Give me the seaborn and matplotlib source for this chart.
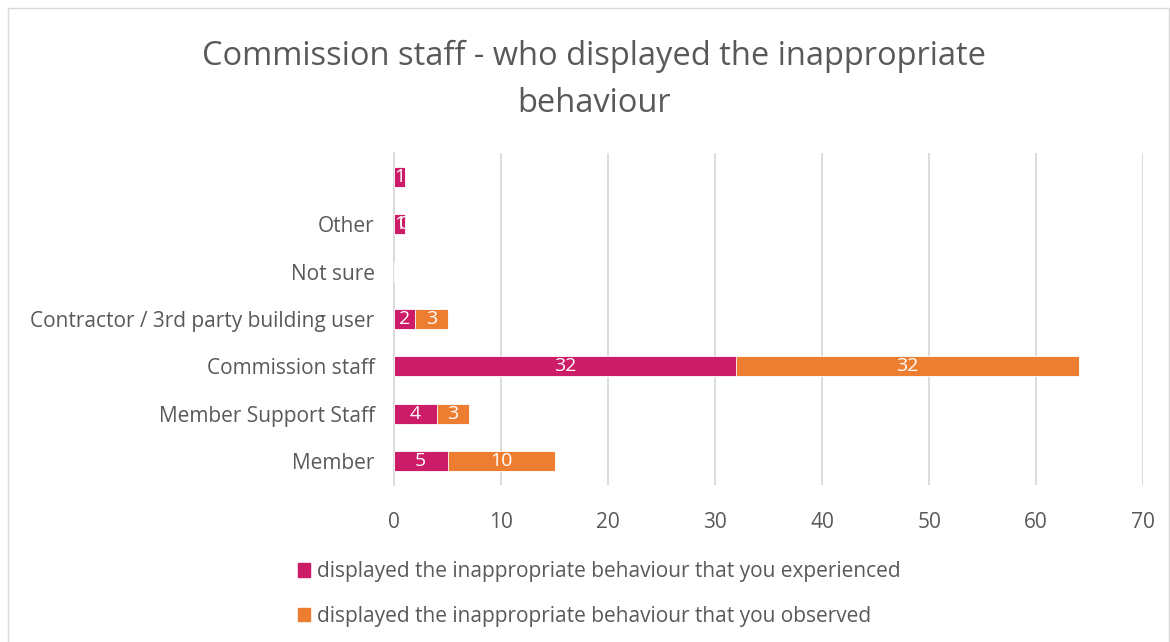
import numpy as np
import pandas as pd
import seaborn as sns
import matplotlib.pyplot as plt
from matplotlib.patches import Patch, Rectangle

# dati (dall'alto verso il basso)
categories = ["", "Other", "Not sure", "Contractor / 3rd party building user",
              "Commission staff", "Member Support Staff", "Member"]
experienced = [1, 1, np.nan, 2, 32, 4, 5]
observed = [np.nan, 0, np.nan, 3, 32, 3, 10]
series_names = ["displayed the inappropriate behaviour that you experienced",
                "displayed the inappropriate behaviour that you observed"]
x_ticks = [0, 10, 20, 30, 40, 50, 60, 70]

pink = "#CC1C68"
orange = "#ED7D31"
grey_text = "#595959"

df = pd.DataFrame({"cat": categories, "exp": experienced, "obs": observed})
df["total"] = df["exp"].fillna(0) + df["obs"].fillna(0)
df["exp0"] = df["exp"].fillna(0)

sns.set_style("white")
plt.rcParams["font.family"] = ["Open Sans", "DejaVu Sans"]

fig = plt.figure(figsize=(11.7, 6.42), dpi=100)
ax = fig.add_axes([0.3368, 0.245, 0.6402, 0.516])

# barre impilate: prima il totale (arancione), poi la parte "experienced" sopra
sns.barplot(data=df, y="cat", x="total", order=categories, color=orange,
            orient="h", width=0.42, saturation=1, ax=ax, zorder=3,
            edgecolor="white", linewidth=0.6)
sns.barplot(data=df, y="cat", x="exp0", order=categories, color=pink,
            orient="h", width=0.42, saturation=1, ax=ax, zorder=4,
            edgecolor="white", linewidth=0.6)

# etichette dei valori
for i, row in df.iterrows():
    if not np.isnan(row["exp"]):
        ax.text(row["exp"] / 2, i, f"{int(row['exp'])}", color="white",
                ha="center", va="center", fontsize=14, zorder=5)
    if not np.isnan(row["obs"]):
        ax.text(row["exp0"] + row["obs"] / 2, i, f"{int(row['obs'])}", color="white",
                ha="center", va="center", fontsize=14, zorder=5)

ax.set_xlim(0, 70)
ax.set_ylim(6.5, -0.5)
ax.set_xticks(x_ticks)
ax.set_xlabel("")
ax.set_ylabel("")
ax.grid(axis="x", color="#d9d9d9", linewidth=1.3, zorder=0)
ax.grid(axis="y", visible=False)
for s in ["top", "right", "bottom"]:
    ax.spines[s].set_visible(False)
ax.spines["left"].set_color("#d9d9d9")
ax.spines["left"].set_linewidth(1.3)
ax.tick_params(axis="both", length=0, labelsize=15, labelcolor=grey_text)
ax.tick_params(axis="x", pad=20)
ax.tick_params(axis="y", pad=14)

fig.text(0.508, 0.876, "Commission staff - who displayed the inappropriate\nbehaviour",
         ha="center", va="center", fontsize=23.5, color=grey_text, linespacing=1.55)

handles = [Patch(color=pink), Patch(color=orange)]
fig.legend(handles, series_names, loc="upper left", bbox_to_anchor=(0.2385, 0.155),
           frameon=False, fontsize=15, labelcolor=grey_text, handlelength=0.6,
           handleheight=0.6, handletextpad=0.3, labelspacing=1.15)

fig.patches.append(Rectangle((0.007, -0.01), 0.992, 0.997, transform=fig.transFigure,
                             fill=False, edgecolor="#d9d9d9", linewidth=1))

plt.savefig("out.png", dpi=100)
